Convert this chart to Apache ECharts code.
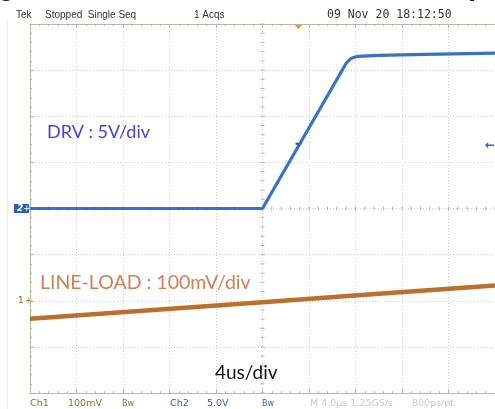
<!DOCTYPE html>
<html>
<head>
<meta charset="utf-8">
<script src="https://cdn.jsdelivr.net/npm/echarts@6/dist/echarts.min.js"></script>
<style>
  html, body { margin: 0; padding: 0; background: #fff; }
  #chart { width: 495px; height: 409px; }
</style>
</head>
<body>
<div id="chart"></div>
<script>
// scope capture, time in us (4us/div, 10 div), amplitude in divisions (8 div)
const drvTime = [-20, 0, 7.2, 7.6, 8.2, 10, 14, 20];
const drvDiv = [0, 0, 3.15, 3.25, 3.3, 3.32, 3.34, 3.37];

const loadTime = [-20, 0, 10, 20];
const loadDiv = [-2.39, -2.03, -1.85, -1.67];

const triggerTime = 3.1;
const triggerLevel = 1.36;
const ch1Level = -2;
const ch2Level = 0;

const headerTexts = ['Tek', 'Stopped  Single Seq', '1 Acqs'];
const headerDate = '09 Nov 20 18:12:50';
const footerTexts = ['Ch1', '100mV', 'Bw', 'Ch2', '5.0V', 'Bw', 'M 4.0\u00b5s 1.25GS/s', '800ps/pt'];

const borderColor = '#b9b9a3';
const gridColor = '#cdcdcd';
const blue = '#2f68c2';
const brown = '#b8661f';

const chart = echarts.init(document.getElementById('chart'));

// small ticks along the centre crosshair, every 1/5 division
const crossTicks = [];
for (let i = -25; i <= 25; i++) crossTicks.push([i * 0.8, 0, 0]);
for (let i = -20; i <= 20; i++) crossTicks.push([0, i * 0.2, 1]);

const axisCommon = {
  type: 'value',
  axisLabel: { show: false },
  axisLine: { show: true, onZero: false, lineStyle: { color: borderColor, width: 1 } },
  axisTick: { show: true, inside: true, length: 4, lineStyle: { color: borderColor } },
  minorTick: { show: true, splitNumber: 5, length: 2, lineStyle: { color: borderColor } },
};

const option = {
  animation: false,
  backgroundColor: '#fff',
  grid: { left: 30, top: 24, right: -2, bottom: 16 },
  xAxis: [
    Object.assign({}, axisCommon, {
      min: -20, max: 20, interval: 4, position: 'bottom',
      splitLine: { show: true, lineStyle: { color: gridColor, type: [1, 2] } },
    }),
    Object.assign({}, axisCommon, {
      min: -20, max: 20, interval: 4, position: 'top',
      splitLine: { show: false },
    }),
  ],
  yAxis: [
    Object.assign({}, axisCommon, {
      min: -4, max: 4, interval: 1, position: 'left',
      splitLine: { show: true, lineStyle: { color: gridColor, type: [1, 2] } },
    }),
  ],
  series: [
    {
      type: 'custom',
      silent: true,
      z: 1,
      data: crossTicks,
      encode: { x: 0, y: 1 },
      renderItem: function (params, api) {
        const p = api.coord([api.value(0), api.value(1)]);
        const shape = api.value(2) === 0
          ? { x1: p[0], y1: p[1] - 2, x2: p[0], y2: p[1] + 2 }
          : { x1: p[0] - 2, y1: p[1], x2: p[0] + 2, y2: p[1] };
        return { type: 'line', shape: shape, style: { stroke: '#b3b3b3', lineWidth: 1 } };
      },
    },
    {
      name: 'LINE-LOAD',
      type: 'line',
      z: 3,
      showSymbol: false,
      data: loadTime.map((t, i) => [t, loadDiv[i]]),
      lineStyle: { color: brown, width: 4.5, opacity: 0.95 },
    },
    {
      name: 'DRV',
      type: 'line',
      z: 4,
      showSymbol: false,
      data: drvTime.map((t, i) => [t, drvDiv[i]]),
      lineStyle: { color: blue, width: 3.2, opacity: 0.95 },
    },
  ],
};
chart.setOption(option);

const px = (t, d) => chart.convertToPixel({ gridIndex: 0 }, [t, d]);
const trig = px(triggerTime, triggerLevel);
const c1 = px(-20, ch1Level);
const c2 = px(-20, ch2Level);

const headerX = [16, 45, 194];
const footerX = [30, 68, 122, 170, 207, 262, 310, 412];
const footerColors = ['#9b6a2c', '#9b6a2c', '#9b6a2c', '#3c5fa4', '#3c5fa4', '#3c5fa4', '#c9c9c9', '#c9c9c9'];

const graphics = [
  { type: 'line', shape: { x1: 7.5, y1: 20, x2: 7.5, y2: 409 }, style: { stroke: '#e6ebf2', lineWidth: 1 } },
  // cut-off caption above the capture
  { type: 'text', x: -2, y: -27, style: { text: 'g', font: 'bold 28px "Liberation Sans"', fill: '#111' } },
  { type: 'text', x: 465, y: -27, style: { text: '(', font: 'bold 28px "Liberation Sans"', fill: '#111' } },
  { type: 'text', x: 47, y: 132, style: { text: 'DRV : 5V/div', font: '18px Lato', fill: '#4343e3', verticalAlign: 'middle' } },
  { type: 'text', x: 40, y: 283, style: { text: 'LINE-LOAD : 100mV/div', font: '19.5px Lato', fill: '#d07f57', verticalAlign: 'middle' } },
  { type: 'text', x: 215, y: 373, style: { text: '4us/div', font: '19px Lato', fill: '#111', verticalAlign: 'middle' } },
  // trigger position (top) and level (right)
  { type: 'polygon', shape: { points: [[trig[0] - 4.5, 24], [trig[0] + 4.5, 24], [trig[0], 29]] }, style: { fill: '#e8922c' } },
  { type: 'text', x: 485, y: trig[1], style: { text: '\u2190', font: 'bold 12px "DejaVu Sans"', fill: blue, verticalAlign: 'middle' } },
  { type: 'polyline', shape: { points: [[trig[0] - 3, trig[1] - 2], [trig[0] + 3, trig[1] - 2]] }, style: { stroke: '#1f4f9a', lineWidth: 2 } },
  { type: 'polyline', shape: { points: [[trig[0], trig[1] - 2], [trig[0], trig[1] + 2]] }, style: { stroke: '#1f4f9a', lineWidth: 1.5 } },
  // channel ground markers
  { type: 'rect', shape: { x: 14, y: c2[1] - 4.5, width: 15, height: 9 }, style: { fill: '#2a5fb8' } },
  { type: 'text', x: 17, y: c2[1], style: { text: '2', font: 'italic bold 9px "DejaVu Sans"', fill: '#fff', verticalAlign: 'middle' } },
  { type: 'text', x: 23, y: c2[1], style: { text: '+', font: '9px "DejaVu Sans"', fill: '#fff', verticalAlign: 'middle' } },
  { type: 'text', x: 18, y: c1[1], style: { text: '1', font: '9px "DejaVu Sans"', fill: '#9b6a2c', verticalAlign: 'middle' } },
  { type: 'text', x: 25, y: c1[1], style: { text: '+', font: '9px "DejaVu Sans"', fill: '#9b6a2c', verticalAlign: 'middle' } },
  { type: 'text', x: 327, y: 15, style: { text: headerDate, font: '11.5px "DejaVu Sans Mono"', fill: '#333', verticalAlign: 'middle' } },
];
headerTexts.forEach((s, i) => graphics.push({
  type: 'text', x: headerX[i], y: 15,
  style: { text: s, font: '10px "Liberation Sans"', fill: '#333', verticalAlign: 'middle' },
}));
footerTexts.forEach((s, i) => graphics.push({
  type: 'text', x: footerX[i], y: 404,
  style: { text: s, font: (s === 'Bw' ? '8px' : '9.5px') + ' "DejaVu Sans"', fill: footerColors[i], verticalAlign: 'middle' },
}));

chart.setOption({ graphic: graphics });
</script>
</body>
</html>
